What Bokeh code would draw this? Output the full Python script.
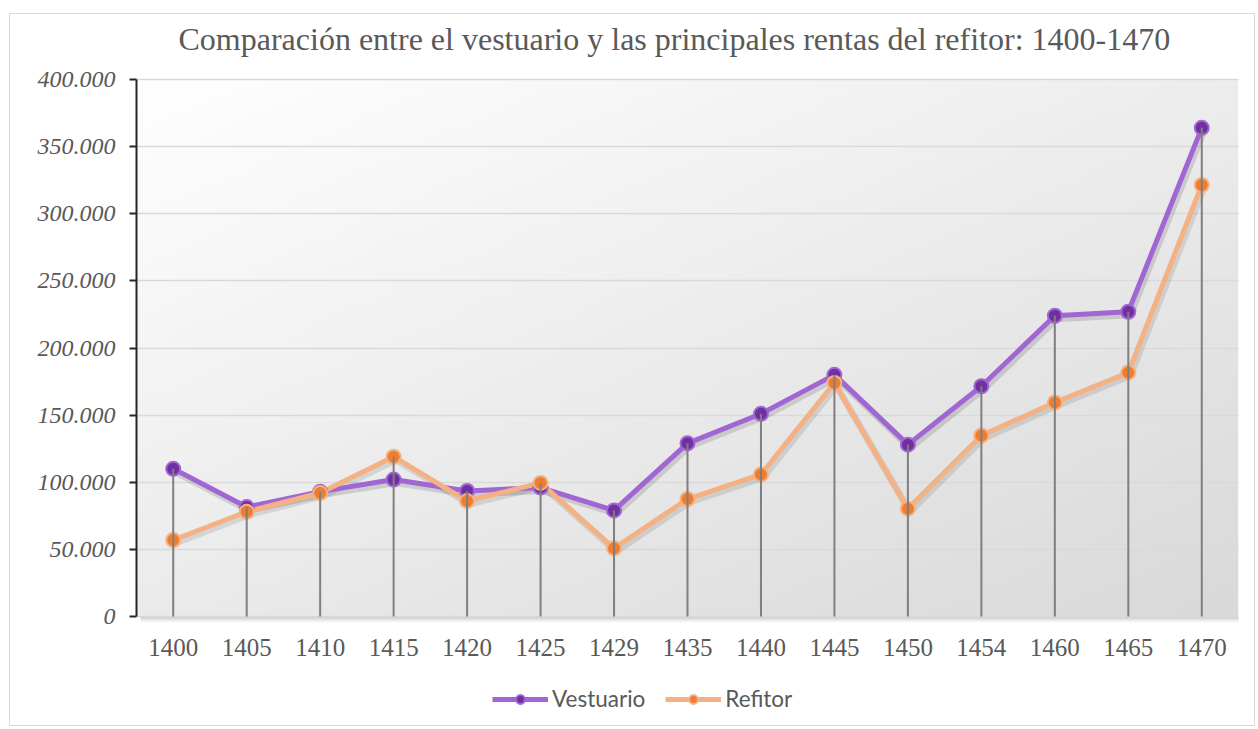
import numpy as np
from bokeh.plotting import figure
from bokeh.models import Range1d, FixedTicker, Legend, LegendItem, Title
from bokeh.embed import file_html
from bokeh.resources import INLINE

# ---- data ----
years = ["1400", "1405", "1410", "1415", "1420", "1425", "1429", "1435",
         "1440", "1445", "1450", "1454", "1460", "1465", "1470"]
vestuario = [110000, 81500, 93000, 102000, 93500, 96000, 79000, 129000,
             151000, 180000, 128000, 171500, 224000, 227000, 364000]
refitor = [57000, 78000, 92000, 119000, 86000, 99500, 50800, 87500,
           105800, 174000, 80300, 134800, 159400, 181700, 321500]
y_ticks = [0, 50000, 100000, 150000, 200000, 250000, 300000, 350000, 400000]
title_text = "Comparación entre el vestuario y las principales rentas del refitor: 1400-1470"

idx = list(range(len(years)))
top_vals = [max(a, b) for a, b in zip(vestuario, refitor)]

# ---- layout (pixels) ----
W, H = 1246, 713
FRAME_TOP, LEFT, RIGHT = 44, 126, 18
PLOT_TOP = 65                      # pixel row of the top gridline
PLOT_H = 537                       # height of the 0..max area in px
above_px = PLOT_TOP - FRAME_TOP
below_px = H - PLOT_TOP - PLOT_H
y_max = y_ticks[-1] * (1 + above_px / PLOT_H)
y_min = -y_ticks[-1] * below_px / PLOT_H
frame_w = W - LEFT - RIGHT
px_x = len(years) / frame_w          # data units per pixel (x)
px_y = y_ticks[-1] / PLOT_H          # data units per pixel (y)

p = figure(width=W, height=H, output_backend="svg", toolbar_location=None,
           x_range=Range1d(-0.5, len(years) - 0.5), y_range=Range1d(y_min, y_max),
           min_border_left=LEFT, min_border_right=RIGHT, min_border_top=FRAME_TOP,
           min_border_bottom=0)
p.border_fill_color = "white"
p.background_fill_color = "white"
p.outline_line_color = None
p.styles = {"border": "1px solid #d9d9d9", "margin-left": "9px", "margin-top": "13px"}

# title
p.title = Title(text=title_text, align="left", offset=42, standoff=4,
                text_font="Liberation Serif", text_font_size="32px",
                text_font_style="normal", text_color="#595959")

# soft shadow of the plot area (bottom and right edges)
SH = 7
sh_n = 8
alpha = np.linspace(70, 0, sh_n).astype(np.uint8)
sh_b = np.zeros((sh_n, 2), dtype=np.uint32)
vb = sh_b.view(dtype=np.uint8).reshape((sh_n, 2, 4))
vb[:, :, 3] = alpha[::-1][:, None]        # row 0 = bottom (faint)
vb[:, :, :3] = 80
p.image_rgba(image=[sh_b], x=-0.5 + 4 * px_x, y=-SH * px_y, dw=len(years),
             dh=SH * px_y, level="image")
sh_r = np.zeros((2, sh_n), dtype=np.uint32)
vr = sh_r.view(dtype=np.uint8).reshape((2, sh_n, 4))
vr[:, :, 3] = alpha[None, :]
vr[:, :, :3] = 80
p.image_rgba(image=[sh_r], x=len(years) - 0.5, y=-SH * px_y, dw=SH * px_x,
             dh=y_ticks[-1] - 2 * SH * px_y, level="image")

# gradient background of plot area
ny, nx = 80, 160
u = np.linspace(0, 1, nx)[None, :]
v = np.linspace(0, 1, ny)[:, None]
g = (255 - 18 * u - 20 * (1 - v)).clip(0, 255).astype(np.uint8)
img = np.empty((ny, nx), dtype=np.uint32)
view = img.view(dtype=np.uint8).reshape((ny, nx, 4))
view[:, :, 0] = g
view[:, :, 1] = g
view[:, :, 2] = g
view[:, :, 3] = 255
p.image_rgba(image=[img], x=-0.5, y=0, dw=len(years), dh=y_ticks[-1], level="image")

# grid
p.xgrid.grid_line_color = None
p.ygrid.grid_line_color = "#d9d9d9"
p.ygrid.grid_line_width = 1.5
p.ygrid.ticker = FixedTicker(ticks=y_ticks)

# y axis
p.yaxis.ticker = FixedTicker(ticks=y_ticks)
p.yaxis.bounds = (0, y_ticks[-1])
p.yaxis.major_label_overrides = {t: f"{t:,}".replace(",", ".") for t in y_ticks}
p.yaxis.axis_line_color = "#262626"
p.yaxis.axis_line_width = 2
p.yaxis.major_tick_line_color = "#262626"
p.yaxis.major_tick_line_width = 2
p.yaxis.major_tick_out = 7
p.yaxis.major_tick_in = 0
p.yaxis.minor_tick_line_color = None
p.yaxis.major_label_text_font = "Liberation Serif"
p.yaxis.major_label_text_font_style = "italic"
p.yaxis.major_label_text_font_size = "24px"
p.yaxis.major_label_text_color = "#595959"
p.yaxis.major_label_standoff = 14

# x axis (at zero)
p.xaxis.fixed_location = 0
p.xaxis.ticker = FixedTicker(ticks=idx)
p.xaxis.major_label_overrides = {i: y for i, y in zip(idx, years)}
p.xaxis.axis_line_color = None
p.xaxis.major_tick_line_color = None
p.xaxis.minor_tick_line_color = None
p.xaxis.major_label_text_font = "Liberation Serif"
p.xaxis.major_label_text_font_size = "25px"
p.xaxis.major_label_text_color = "#595959"
p.xaxis.major_label_standoff = 16

# line shadows (offset down-right by a few pixels)
sx_off = [i + 2 * px_x for i in idx]
p.line(sx_off, [y - 3 * px_y for y in vestuario], line_color="black", line_alpha=0.13, line_width=7)
p.line(sx_off, [y - 3 * px_y for y in refitor], line_color="black", line_alpha=0.10, line_width=7)

# series
lv = p.line(idx, vestuario, line_color="#a066d3", line_width=5)
lr = p.line(idx, refitor, line_color="#f4b183", line_width=5)
cv = p.scatter(idx, vestuario, size=14, fill_color="#7030a0", line_color="#a066d3", line_width=2)
cr = p.scatter(idx, refitor, size=14, fill_color="#ed7d31", line_color="#f4b183", line_width=2)

# drop lines
p.segment(x0=idx, y0=[0] * len(idx), x1=idx, y1=top_vals, line_color="#7f7f7f", line_width=2)

legend = Legend(items=[LegendItem(label="Vestuario", renderers=[lv, cv]),
                       LegendItem(label="Refitor", renderers=[lr, cr])],
                orientation="horizontal", location=(356, 15))
legend.background_fill_alpha = 0
legend.border_line_color = None
legend.label_text_font = "Lato"
legend.label_text_font_size = "22.5px"
legend.label_text_color = "#595959"
legend.glyph_width = 56
legend.glyph_height = 22
legend.label_standoff = 4
legend.spacing = 20
legend.padding = 0
legend.margin = 0
p.add_layout(legend, "center")

open("out.html", "w").write(file_html(p, INLINE))
